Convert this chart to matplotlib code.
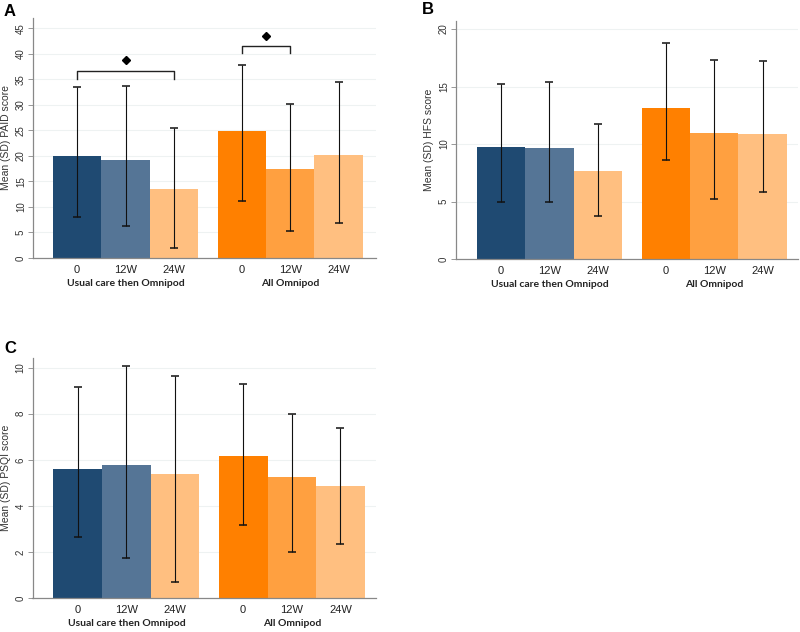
import numpy as np
import matplotlib
matplotlib.use("Agg")
import matplotlib.pyplot as plt

plt.rcParams['font.family'] = ['Liberation Sans', 'DejaVu Sans']

# data
timepoints = ["0", "12W", "24W"]
groups = ["Usual care then Omnipod", "All Omnipod"]
colors = ["#1f4a72", "#557596", "#ffbf80", "#ff8000", "#ffa040", "#ffbf80"]

paid_mean = [19.9, 19.2, 13.5, 24.9, 17.4, 20.1]
paid_low = [8.0, 6.2, 2.0, 11.2, 5.3, 6.8]
paid_high = [33.5, 33.6, 25.4, 37.7, 30.1, 34.5]

hfs_mean = [9.7, 9.65, 7.65, 13.15, 11.0, 10.85]
hfs_low = [4.95, 4.95, 3.7, 8.6, 5.2, 5.8]
hfs_high = [15.2, 15.4, 11.75, 18.75, 17.3, 17.2]

psqi_mean = [5.6, 5.77, 5.4, 6.18, 5.27, 4.85]
psqi_low = [2.66, 1.75, 0.7, 3.18, 2.01, 2.34]
psqi_high = [9.17, 10.07, 9.62, 9.28, 7.99, 7.37]

W, H = 800, 632
fig = plt.figure(figsize=(W / 100, H / 100), dpi=100)


def box(left, top, right, bottom):
    return [left / W, 1 - bottom / H, (right - left) / W, (bottom - top) / H]


def panel(rect, mean, low, high, ylim, yticks, ylabel, ylabel_x, xlim, letter, letter_xy):
    ax = fig.add_axes(rect)
    x = np.array([0, 1, 2, 3.4, 4.4, 5.4])
    mean = np.array(mean)
    yerr = [mean - np.array(low), np.array(high) - mean]
    ax.bar(x, mean, width=1.0, color=colors, zorder=2)
    ax.errorbar(x, mean, yerr=yerr, fmt='none', ecolor='#111111',
                elinewidth=0.8, capsize=3, capthick=1.1, zorder=3)
    ax.set_ylim(*ylim)
    ax.set_xlim(*xlim)
    ax.set_yticks(yticks)
    ax.set_yticklabels([str(t) for t in yticks], rotation=90, va='center',
                       fontsize=7, color='#333333')
    ax.tick_params(axis='y', length=3.6, width=0.6, color='#888888', pad=1.5)
    ax.set_xticks(x)
    ax.set_xticklabels(timepoints * 2, fontsize=8, color='#222222')
    ax.tick_params(axis='x', length=0, pad=5)
    ax.yaxis.grid(True, color='#eef2f2', linewidth=0.8, zorder=0)
    ax.set_axisbelow(True)
    for s in ['top', 'right']:
        ax.spines[s].set_visible(False)
    for s in ['left', 'bottom']:
        ax.spines[s].set_color('#888888')
        ax.spines[s].set_linewidth(0.9)
    ax.set_ylabel(ylabel, fontsize=7.5, color='#333333')
    ax.yaxis.set_label_coords(ylabel_x, 0.5)
    tr = ax.get_xaxis_transform()
    for gx, g in zip([1, 4.4], groups):
        ax.text(gx, -0.108, g, transform=tr, ha='center', va='center',
                fontsize=7.5, fontweight='bold', family=['Lato', 'DejaVu Sans'],
                color='#222222')
    fig.text(letter_xy[0] / W, 1 - letter_xy[1] / H, letter, fontsize=12,
             fontweight='bold', ha='left', va='center')
    return ax, x


axA, x = panel(box(33, 18, 376, 258), paid_mean, paid_low, paid_high,
               (0, 47), list(range(0, 46, 5)), "Mean (SD) PAID score", -0.064,
               (-0.91, 6.17), "A", (4, 11))
# significance brackets
axA.plot([x[0], x[0], x[2], x[2]], [35.0, 36.6, 36.6, 35.0], color='#222222', lw=1.0)
axA.plot([1], [38.7], marker='D', color='black', markersize=4.5)
axA.plot([x[3], x[3], x[4], x[4]], [40.2, 41.5, 41.5, 40.2], color='#222222', lw=1.0)
axA.plot([(x[3] + x[4]) / 2], [43.5], marker='D', color='black', markersize=4.5)

panel(box(456, 21, 798, 259), hfs_mean, hfs_low, hfs_high,
      (0, 20.7), [0, 5, 10, 15, 20], "Mean (SD) HFS score", -0.064,
      (-0.93, 6.13), "B", (422, 10))

panel(box(32.5, 358, 376, 598), psqi_mean, psqi_low, psqi_high,
      (0, 10.42), [0, 2, 4, 6, 8, 10], "Mean (SD) PSQI score", -0.063,
      (-0.93, 6.13), "C", (4, 349))

fig.savefig("out.png", dpi=100)
